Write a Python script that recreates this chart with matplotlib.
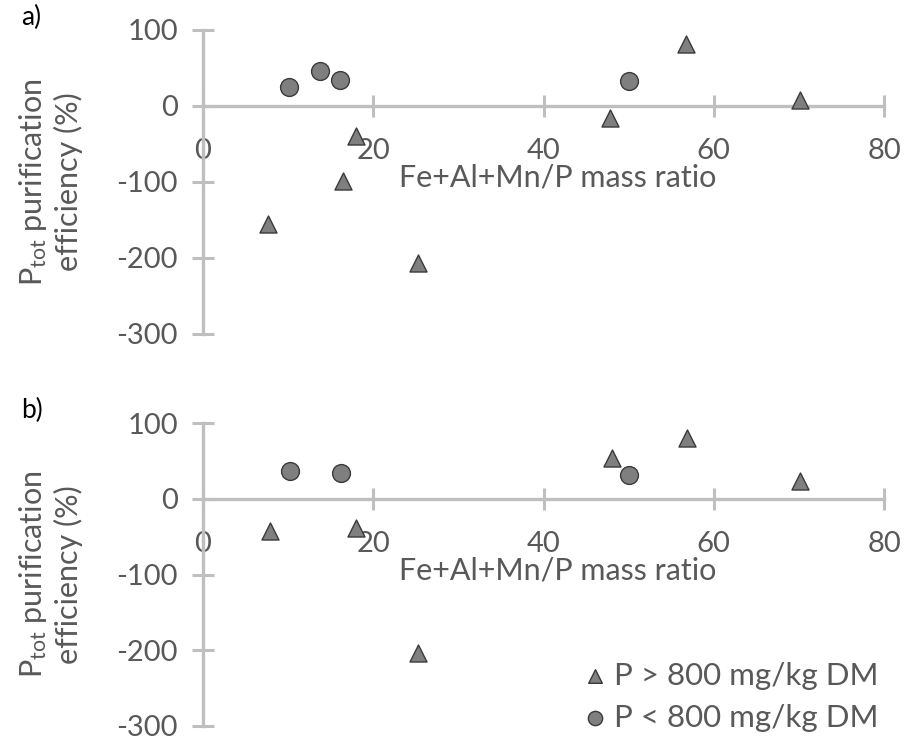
import matplotlib
matplotlib.use("Agg")
import matplotlib.pyplot as plt

plt.rcParams['font.family'] = ['Lato', 'DejaVu Sans']
plt.rcParams['mathtext.fontset'] = 'custom'
plt.rcParams['mathtext.rm'] = 'Lato'
plt.rcParams['mathtext.it'] = 'Lato:italic'
plt.rcParams['axes.unicode_minus'] = False

# Panel a)
a_high_x = [7.6, 16.5, 18.0, 25.3, 47.8, 56.7, 70.1]
a_high_y = [-155, -99, -39, -207, -16, 82, 8]
a_low_x = [10.1, 13.8, 16.1, 50.0]
a_low_y = [25, 46, 34, 33]

# Panel b)
b_high_x = [7.9, 18.0, 25.3, 48.0, 56.8, 70.1]
b_high_y = [-42, -38, -204, 54, 80, 24]
b_low_x = [10.2, 16.2, 50.1]
b_low_y = [36, 34, 32]

xticks = [0, 20, 40, 60, 80]
yticks = [-300, -200, -100, 0, 100]
panel_labels = ['a)', 'b)']
legend_labels = ['P > 800 mg/kg DM', 'P < 800 mg/kg DM']
xlabel = 'Fe+Al+Mn/P mass ratio'
ylabel = 'P$_{\\mathrm{tot}}$ purification\nefficiency (%)'

W, H = 908, 737
fig = plt.figure(figsize=(W / 100, H / 100), dpi=100)

AX_COL = '#BFBFBF'
TXT_COL = '#595959'
FILL = '#7F7F7F'
EDGE = '#3A3A3A'

def make_ax(top_px, bottom_px):
    left_px, right_px = 203, 884
    return fig.add_axes([left_px / W, 1 - bottom_px / H,
                         (right_px - left_px) / W, (bottom_px - top_px) / H])

panels = [
    (make_ax(30, 334), a_high_x, a_high_y, a_low_x, a_low_y),
    (make_ax(423, 726), b_high_x, b_high_y, b_low_x, b_low_y),
]

for i, (ax, hx, hy, lx, ly) in enumerate(panels):
    ax.set_xlim(0, 80)
    ax.set_ylim(-300, 100)
    ax.patch.set_alpha(0)
    for s in ['top', 'right']:
        ax.spines[s].set_visible(False)
    ax.spines['bottom'].set_position(('data', 0))
    for s in ['left', 'bottom']:
        ax.spines[s].set_color(AX_COL)
        ax.spines[s].set_linewidth(2.4)
    ax.set_xticks(xticks)
    ax.set_yticks(yticks)
    ax.tick_params(axis='both', direction='inout', length=16, width=2.2,
                   color=AX_COL, labelcolor=TXT_COL, labelsize=21)
    ax.tick_params(axis='x', pad=15)
    ax.tick_params(axis='y', pad=10)
    ax.scatter(hx, hy, marker='^', s=150, facecolor=FILL, edgecolor=EDGE,
               linewidth=1.0, zorder=5, clip_on=False, label=legend_labels[0])
    ax.scatter(lx, ly, marker='o', s=165, facecolor=FILL, edgecolor=EDGE,
               linewidth=1.0, zorder=5, clip_on=False, label=legend_labels[1])
    ax.set_xlabel(xlabel, fontsize=22, color=TXT_COL)
    ax.xaxis.set_label_coords((558 - 203) / 681, 0.56)
    ax.set_ylabel(ylabel, fontsize=22, color=TXT_COL, linespacing=1.2)
    ax.yaxis.set_label_coords(-0.176, 0.5)
    ax.text(-0.267, 1.0, panel_labels[i], transform=ax.transAxes, fontsize=19,
            color='black', ha='left', va='bottom')

leg = panels[1][0].legend(loc='lower right', bbox_to_anchor=(1.015, -0.07),
                          frameon=False, fontsize=22.5, labelcolor=TXT_COL,
                          handletextpad=0.1, handlelength=1.0, markerscale=0.8,
                          labelspacing=0.45, borderpad=0.0)

fig.savefig('out.png', dpi=100)
